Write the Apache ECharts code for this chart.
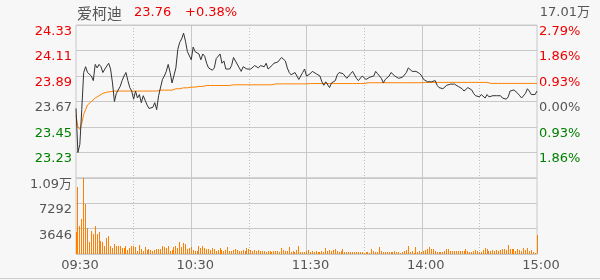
<!DOCTYPE html>
<html><head><meta charset="utf-8">
<script src="https://cdn.jsdelivr.net/npm/echarts@6/dist/echarts.min.js"></script>
<style>html,body{margin:0;padding:0;background:#f7f7f7}#c{width:600px;height:280px}</style>
</head><body><div id="c"></div>
<script>
const stockName = '爱柯迪';
const lastPrice = '23.76';
const changePct = '+0.38%';
const totalVolume = '17.01万';

const priceTicks = ['23.01','23.23','23.45','23.67','23.89','24.11','24.33'];
const pctTicks = ['','1.86%','0.93%','0.00%','0.93%','1.86%','2.79%'];
const tickColors = ['#008000','#008000','#008000','#555555','#ee0000','#ee0000','#ee0000'];
const volumeTickValues = [0, 3646, 7292, 10938];
const volumeTicks = ['', '3646', '7292', '1.09万'];
const timeLabels = ['09:30','10:30','11:30','14:00','15:00'];
const halfHours = ['10:00','11:00','13:30','14:30'];
const hourLines = ['10:30','11:30','14:00'];

const priceMorning = [
23.61,23.23,23.30,23.60,23.92,23.97,23.92,23.91,23.89,23.85,
23.99,23.96,23.99,23.97,23.92,23.95,23.95,24.00,23.95,23.83,
23.67,23.74,23.73,23.80,23.85,23.89,23.92,23.85,23.79,23.76,
23.69,23.76,23.70,23.73,23.66,23.72,23.68,23.64,23.61,23.62,
23.62,23.66,23.60,23.72,23.73,23.86,23.89,23.93,23.99,23.92,
23.83,23.84,23.96,24.12,24.18,24.21,24.26,24.19,24.10,24.10,
24.03,24.14,24.10,24.10,24.08,24.03,24.08,24.06,24.00,23.96,
23.95,23.94,23.96,24.04,24.04,24.08,24.00,24.02,23.95,23.96,
23.95,23.98,24.05,24.02,24.02,23.96,23.93,23.97,23.96,23.95,
23.95,23.95,23.95,23.98,23.98,23.96,23.98,23.97,23.97,24.00,
23.95,23.95,23.98,24.00,24.00,24.01,24.02,24.05,24.06,24.02,
23.96,23.92,23.90,23.90,23.92,23.89,23.86,23.89,23.92,23.95,
23.89];
const priceAfternoon = [
23.89,23.91,23.93,23.92,23.91,23.91,23.89,23.84,23.81,23.84,
23.83,23.79,23.83,23.82,23.85,23.90,23.92,23.93,23.91,23.89,
23.87,23.89,23.91,23.93,23.92,23.87,23.85,23.86,23.89,23.90,
23.86,23.87,23.88,23.89,23.89,23.93,23.91,23.90,23.87,23.83,
23.86,23.87,23.89,23.92,23.91,23.89,23.88,23.87,23.87,23.88,
23.89,23.92,23.96,23.95,23.93,23.93,23.93,23.93,23.91,23.89,
23.86,23.86,23.84,23.83,23.84,23.85,23.85,23.81,23.79,23.78,
23.78,23.79,23.81,23.82,23.82,23.82,23.82,23.82,23.80,23.79,
23.78,23.76,23.76,23.79,23.80,23.77,23.74,23.72,23.72,23.71,
23.73,23.72,23.70,23.73,23.71,23.72,23.72,23.72,23.72,23.73,
23.72,23.70,23.69,23.69,23.71,23.76,23.77,23.77,23.76,23.74,
23.72,23.70,23.70,23.74,23.78,23.76,23.73,23.73,23.73,23.76];

const avgMorning = [
23.55,23.45,23.43,23.48,23.56,23.60,23.64,23.65,23.67,23.68,
23.70,23.71,23.72,23.73,23.74,23.745,23.75,23.752,23.755,23.758,
23.76,23.76,23.76,23.76,23.76,23.76,23.76,23.76,23.76,23.76,
23.76,23.76,23.76,23.76,23.76,23.76,23.76,23.76,23.76,23.76,
23.76,23.76,23.76,23.76,23.768,23.768,23.768,23.768,23.768,23.768,
23.768,23.78,23.78,23.78,23.78,23.788,23.788,23.788,23.788,23.794,
23.794,23.794,23.794,23.794,23.80,23.80,23.80,23.80,23.808,23.808,
23.808,23.808,23.808,23.808,23.808,23.808,23.808,23.808,23.808,23.808,
23.808,23.808,23.814,23.814,23.814,23.814,23.814,23.814,23.814,23.814,
23.814,23.814,23.814,23.814,23.814,23.814,23.814,23.814,23.814,23.814,
23.814,23.814,23.814,23.822,23.822,23.822,23.822,23.822,23.822,23.822,
23.822,23.822,23.822,23.822,23.822,23.822,23.822,23.822,23.822,23.822,
23.822];
const avgAfternoon = [
23.825,23.825,23.825,23.825,23.825,23.825,23.825,23.825,23.825,23.825,
23.825,23.825,23.825,23.825,23.825,23.825,23.825,23.825,23.825,23.825,
23.825,23.825,23.825,23.825,23.825,23.825,23.825,23.825,23.825,23.825,
23.832,23.832,23.832,23.832,23.832,23.832,23.832,23.832,23.832,23.832,
23.832,23.832,23.832,23.832,23.832,23.832,23.832,23.832,23.832,23.832,
23.832,23.832,23.832,23.832,23.832,23.832,23.832,23.832,23.832,23.832,
23.835,23.835,23.835,23.835,23.835,23.835,23.835,23.835,23.835,23.835,
23.835,23.835,23.835,23.835,23.835,23.835,23.835,23.835,23.835,23.835,
23.835,23.835,23.835,23.835,23.835,23.835,23.835,23.835,23.835,23.835,
23.835,23.835,23.835,23.835,23.835,23.826,23.826,23.826,23.826,23.826,
23.826,23.826,23.826,23.826,23.826,23.826,23.826,23.826,23.826,23.826,
23.826,23.826,23.826,23.826,23.826,23.826,23.826,23.826,23.826,23.826];

const volMorning = [
3200,9680,4050,5100,10938,7250,3800,1670,3340,2860,
4050,2860,3200,1900,1770,1190,2240,2530,1190,900,
1430,1100,1100,1100,810,810,1100,620,810,1100,
1190,950,480,1290,715,480,950,620,715,620,
480,620,715,715,715,1190,1000,810,1100,430,
620,950,1190,810,1765,950,1575,1430,715,810,
950,620,480,480,1190,810,1190,810,715,715,
620,810,715,480,620,810,620,430,620,950,
480,480,620,715,620,480,430,620,480,810,
715,620,480,620,480,620,430,480,480,330,
480,480,330,430,480,480,330,900,620,480,
480,950,330,430,330,620,1100,330,240,330,
430];
const volAfternoon = [
576,336,480,336,432,336,240,384,336,864,
480,576,480,576,672,480,288,384,720,288,
240,288,288,288,288,336,288,288,288,192,
288,336,192,672,384,288,288,1008,480,288,
240,336,288,240,336,432,336,288,
192,288,432,576,1152,288,384,192,960,336,
480,336,384,576,672,1008,768,720,384,336,
288,240,336,384,720,720,480,480,480,480,
480,480,480,480,720,384,336,336,480,576,
480,336,288,576,816,672,480,384,576,384,
576,432,576,720,720,576,1248,672,720,672,
432,672,576,480,864,576,816,384,576,336,
96,2736];

// time categories
const times = [];
function pad(n){return (n<10?'0':'')+n;}
for (let m = 9*60+30; m <= 11*60+30; m++) times.push(pad(Math.floor(m/60))+':'+pad(m%60));
for (let m = 13*60+1; m <= 15*60; m++) times.push(pad(Math.floor(m/60))+':'+pad(m%60));

const prices = priceMorning.concat(priceAfternoon);
const avgs = avgMorning.concat(avgAfternoon);
const vols = volMorning.concat(volAfternoon);

const pMin = parseFloat(priceTicks[0]);
const pStep = parseFloat(priceTicks[1]) - pMin;
const toUnit = p => (p - pMin) / pStep;

const FONT = '"DejaVu Sans", "Noto Sans CJK SC", sans-serif';
const GRID_COLOR = '#c8c8c8';
const hourIdx = hourLines.map(t => times.indexOf(t));
const halfIdx = halfHours.map(t => times.indexOf(t));
const labelIdx = timeLabels.map(t => times.indexOf(t));

function solidAxis(g, withLabels) {
  return {type: 'category', gridIndex: g, data: times, boundaryGap: false,
    axisLine: {show:false}, axisTick: {show:false},
    axisLabel: withLabels ? {show: true, interval: (i) => labelIdx.indexOf(i) >= 0, color: '#555', fontSize: 13, fontFamily: FONT, margin: 5, padding: [0,0,0,8]} : {show: false},
    splitLine: {show: true, interval: (i) => hourIdx.indexOf(i) >= 0, lineStyle: {color: GRID_COLOR, width: 1}}};
}
function dottedAxis(g) {
  return {type: 'category', gridIndex: g, data: times, boundaryGap: false,
    axisLine: {show:false}, axisTick: {show:false}, axisLabel: {show:false},
    splitLine: {show: true, interval: (i) => halfIdx.indexOf(i) >= 0, lineStyle: {color: '#bdbdbd', width: 1, type: [1,2]}}};
}

const chart = echarts.init(document.getElementById('c'), null, {renderer: 'canvas'});
chart.setOption({
  animation: false,
  backgroundColor: '#f7f7f7',
  textStyle: {fontFamily: FONT},
  grid: [
    {left: 76, top: 25, width: 461, height: 153, show: true, borderColor: GRID_COLOR, borderWidth: 1, backgroundColor: 'transparent'},
    {left: 76, top: 178, width: 461, height: 76, show: true, borderColor: GRID_COLOR, borderWidth: 1, backgroundColor: 'transparent'}
  ],
  xAxis: [solidAxis(0, false), solidAxis(1, true), dottedAxis(0), dottedAxis(1)],
  yAxis: [
    {type: 'value', gridIndex: 0, min: 0, max: priceTicks.length - 1, interval: 1, position: 'left',
     axisLine: {show:false}, axisTick: {show:false},
     axisLabel: {margin: 4, fontSize: 13, fontFamily: FONT, verticalAlign: 'top',
       formatter: v => { const k = Math.round(v); return k === 0 ? '' : priceTicks[k]; },
       color: v => tickColors[Math.round(Number(v))]},
     splitLine: {show: true, lineStyle: {color: GRID_COLOR, width: 1}}},
    {type: 'value', gridIndex: 0, min: 0, max: pctTicks.length - 1, interval: 1, position: 'right',
     axisLine: {show:false}, axisTick: {show:false},
     axisLabel: {margin: 2, fontSize: 13, fontFamily: FONT, verticalAlign: 'top',
       formatter: v => pctTicks[Math.round(v)],
       color: v => tickColors[Math.round(Number(v))]},
     splitLine: {show: false}},
    {type: 'value', gridIndex: 1, min: 0, max: volumeTickValues[volumeTickValues.length-1], interval: volumeTickValues[1], position: 'left',
     axisLine: {show:false}, axisTick: {show:false},
     axisLabel: {margin: 4, fontSize: 13, fontFamily: FONT, verticalAlign: 'top', color: '#555',
       formatter: v => { const k = volumeTickValues.indexOf(Math.round(v)); return k > 0 ? volumeTicks[k] : ''; }},
     splitLine: {show: true, lineStyle: {color: GRID_COLOR, width: 1}}}
  ],
  series: [
    {type: 'line', name: 'price', xAxisIndex: 0, yAxisIndex: 0, data: prices.map(toUnit),
     symbol: 'none', lineStyle: {color: '#333', width: 1}, itemStyle: {color: '#333'}, z: 5},
    {type: 'line', name: 'avg', xAxisIndex: 0, yAxisIndex: 0, data: avgs.map(toUnit),
     symbol: 'none', lineStyle: {color: '#ff8000', width: 1}, itemStyle: {color: '#ff8000'}, z: 4},
    {type: 'custom', name: 'vol', xAxisIndex: 1, yAxisIndex: 2, data: vols.map((v, i) => [i, v]),
     encode: {x: 0, y: 1},
     renderItem: function (params, api) {
       const top = api.coord([api.value(0), api.value(1)]);
       const base = api.coord([api.value(0), 0]);
       const x = Math.round(top[0] - 0.5);
       const yTop = Math.round(top[1]);
       const yBase = Math.round(base[1]);
       return {type: 'rect', shape: {x: x, y: yTop, width: 1, height: Math.max(0, yBase - yTop)},
               style: {fill: '#ff8000'}};
     }}
  ],
  graphic: [
    {type: 'text', x: 77, y: 13, style: {text: stockName, fontSize: 15, fontFamily: '"Noto Sans CJK SC", sans-serif', fill: '#555', verticalAlign: 'middle'}},
    {type: 'text', x: 134, y: 13, style: {text: lastPrice, fontSize: 13, fontFamily: FONT, fill: '#ee0000', verticalAlign: 'middle'}},
    {type: 'text', x: 185, y: 13, style: {text: changePct, fontSize: 13, fontFamily: FONT, fill: '#ee0000', verticalAlign: 'middle'}},
    {type: 'text', x: 590, y: 13, style: {text: totalVolume, fontSize: 13, fontFamily: FONT, fill: '#555', align: 'right', verticalAlign: 'middle'}},
    {type: 'line', shape: {x1: 0, y1: 278.5, x2: 600, y2: 278.5}, style: {stroke: '#cccccc', lineWidth: 1}}
  ]
});
</script></body></html>
